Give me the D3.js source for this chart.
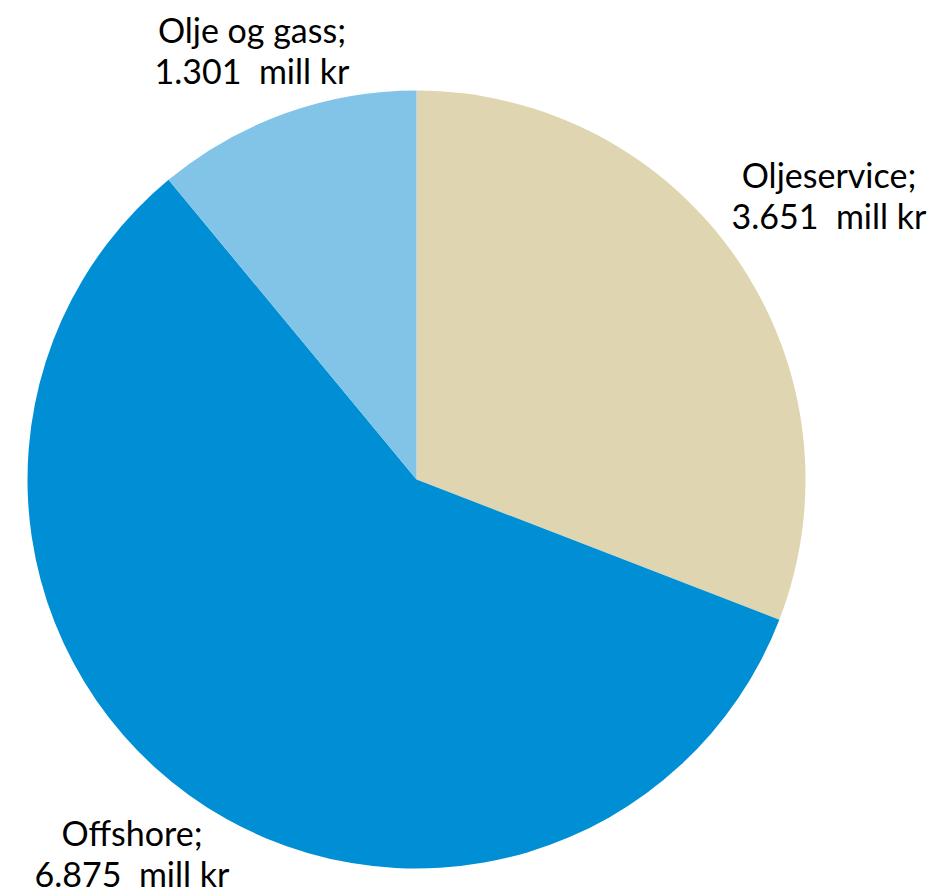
<!DOCTYPE html>
<html>
<head>
<meta charset="utf-8">
<script src="https://cdn.jsdelivr.net/npm/d3@7/dist/d3.min.js"></script>
<style>
  html, body { margin: 0; padding: 0; background: #fff; }
  svg { display: block; }
  text { font-family: Lato, "Open Sans", sans-serif; fill: #000; }
</style>
</head>
<body>
<svg id="chart" width="933" height="895"></svg>
<script>
// Segment names, values (mill kr) and fill colours
const categories = ["Oljeservice", "Offshore", "Olje og gass"];
const values = [3651, 6875, 1301];
const colors = ["#DFD5B0", "#008FD5", "#82C4E8"];
const valueLabels = ["3.651", "6.875", "1.301"];

// Label anchor points (text centre, first baseline)
const labelPos = [[829, 188], [132, 846], [252, 43]];

const width = 933, height = 895;
const cx = 416.5, cy = 479.5, radius = 389;

const svg = d3.select("#chart");
const g = svg.append("g").attr("transform", `translate(${cx},${cy})`);

const pie = d3.pie().sort(null).value(d => d.value);
const arc = d3.arc().innerRadius(0).outerRadius(radius);

const data = categories.map((c, i) => ({ name: c, value: values[i], color: colors[i], label: valueLabels[i], pos: labelPos[i] }));

g.selectAll("path.slice")
  .data(pie(data))
  .join("path")
  .attr("class", "slice")
  .attr("d", arc)
  .attr("fill", d => d.data.color);

const labels = svg.selectAll("text.lbl")
  .data(data)
  .join("text")
  .attr("class", "lbl")
  .attr("text-anchor", "middle")
  .attr("font-size", 34)
  .attr("x", d => d.pos[0])
  .attr("y", d => d.pos[1]);

labels.append("tspan")
  .attr("x", d => d.pos[0])
  .text(d => d.name + ";");
labels.append("tspan")
  .attr("x", d => d.pos[0])
  .attr("dy", 41)
  .attr("xml:space", "preserve")
  .style("white-space", "pre")
  .text(d => d.label + "  mill kr");
</script>
</body>
</html>
